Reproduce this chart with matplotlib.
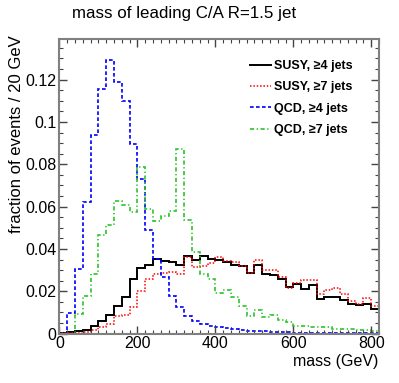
import numpy as np
import matplotlib
matplotlib.use('Agg')
import matplotlib.pyplot as plt
from matplotlib.ticker import MultipleLocator, FuncFormatter

plt.rcParams['font.family'] = ['Liberation Sans', 'DejaVu Sans']

# 20 GeV bins from 0 to 820 GeV
bin_edges = np.arange(0, 840, 20)

susy_4j = [0.0004, 0.0007, 0.0010, 0.0019, 0.0036, 0.0058, 0.0090, 0.0130, 0.0175, 0.0260,
           0.0310, 0.0325, 0.0353, 0.0345, 0.0337, 0.0322, 0.0369, 0.0348, 0.0365, 0.0351,
           0.0350, 0.0338, 0.0326, 0.0320, 0.0287, 0.0323, 0.0280, 0.0275, 0.0256, 0.0220,
           0.0233, 0.0209, 0.0228, 0.0165, 0.0173, 0.0175, 0.0157, 0.0142, 0.0137, 0.0142,
           0.0115]
susy_7j = [0.0002, 0.0003, 0.0005, 0.0009, 0.0018, 0.0030, 0.0045, 0.0082, 0.0088, 0.0125,
           0.0200, 0.0257, 0.0280, 0.0285, 0.0289, 0.0283, 0.0361, 0.0313, 0.0318, 0.0334,
           0.0362, 0.0343, 0.0338, 0.0320, 0.0286, 0.0346, 0.0299, 0.0302, 0.0268, 0.0217,
           0.0239, 0.0252, 0.0252, 0.0189, 0.0205, 0.0217, 0.0186, 0.0154, 0.0142, 0.0170,
           0.0129]
qcd_4j = [0.0000, 0.0097, 0.0306, 0.0620, 0.0938, 0.1156, 0.1294, 0.1189, 0.1098, 0.0894,
          0.0729, 0.0489, 0.0353, 0.0267, 0.0180, 0.0125, 0.0082, 0.0060, 0.0044, 0.0035,
          0.0029, 0.0025, 0.0020, 0.0017, 0.0014, 0.0011, 0.0010, 0.0008, 0.0007, 0.0006,
          0.0005, 0.0005, 0.0004, 0.0004, 0.0003, 0.0003, 0.0003, 0.0002, 0.0002, 0.0002,
          0.0001]
qcd_7j = [0.0000, 0.0000, 0.0094, 0.0180, 0.0280, 0.0466, 0.0513, 0.0627, 0.0607, 0.0573,
          0.0787, 0.0588, 0.0533, 0.0557, 0.0580, 0.0870, 0.0538, 0.0384, 0.0282, 0.0259,
          0.0190, 0.0205, 0.0175, 0.0130, 0.0085, 0.0110, 0.0080, 0.0090, 0.0065, 0.0055,
          0.0035, 0.0035, 0.0030, 0.0033, 0.0030, 0.0020, 0.0022, 0.0020, 0.0018, 0.0015,
          0.0012]

labels = ['SUSY, \u22654 jets', 'SUSY, \u22657 jets', 'QCD, \u22654 jets', 'QCD, \u22657 jets']

fig = plt.figure(figsize=(3.99, 3.83), dpi=100)
ax = fig.add_axes([0.149, 0.129, 0.801, 0.768])

ax.stairs(susy_4j, bin_edges, color='black', lw=1.4, label=labels[0])
ax.stairs(susy_7j, bin_edges, color='#ff0000', lw=1.1, ls=(0, (1, 1.2)), label=labels[1])
ax.stairs(qcd_4j, bin_edges, color='#0000ff', lw=1.2, ls=(0, (2.2, 1.4)), label=labels[2])
ax.stairs(qcd_7j, bin_edges, color='#2ec42e', lw=1.2, ls=(0, (2.5, 1.5, 0.8, 1.5)), label=labels[3])

ax.set_xlim(0, 820)
ax.set_ylim(0, 0.139)

ax.xaxis.set_major_locator(MultipleLocator(200))
ax.xaxis.set_minor_locator(MultipleLocator(20))
ax.yaxis.set_major_locator(MultipleLocator(0.02))
ax.yaxis.set_minor_locator(MultipleLocator(0.005))
ax.yaxis.set_major_formatter(FuncFormatter(lambda v, p: '%g' % round(v, 3)))

ax.tick_params(which='both', direction='in', top=True, right=True, colors='#444444',
               labelcolor='black', labelsize=11.5, pad=2)
ax.tick_params(which='major', length=6, width=1.0)
ax.tick_params(which='minor', length=3, width=0.8)
for s in ax.spines.values():
    s.set_color('#808080')
    s.set_linewidth(1.5)

ax.set_xlabel('mass (GeV)', fontsize=11.5, loc='right')
ax.xaxis.set_label_coords(0.997, -0.07)
ax.set_ylabel('fraction of events / 20 GeV', fontsize=12, loc='top')
ax.yaxis.set_label_coords(-0.112, 1.015)

fig.text(0.18, 0.966, 'mass of leading C/A R=1.5 jet', fontsize=12.2, va='center', ha='left')

leg = ax.legend(loc='upper left', bbox_to_anchor=(0.596, 0.93), frameon=False,
                prop={'weight': 'bold', 'size': 9}, handlelength=1.65, handletextpad=0.3,
                labelspacing=0.75, borderaxespad=0, borderpad=0)

fig.savefig('out.png', dpi=100)
